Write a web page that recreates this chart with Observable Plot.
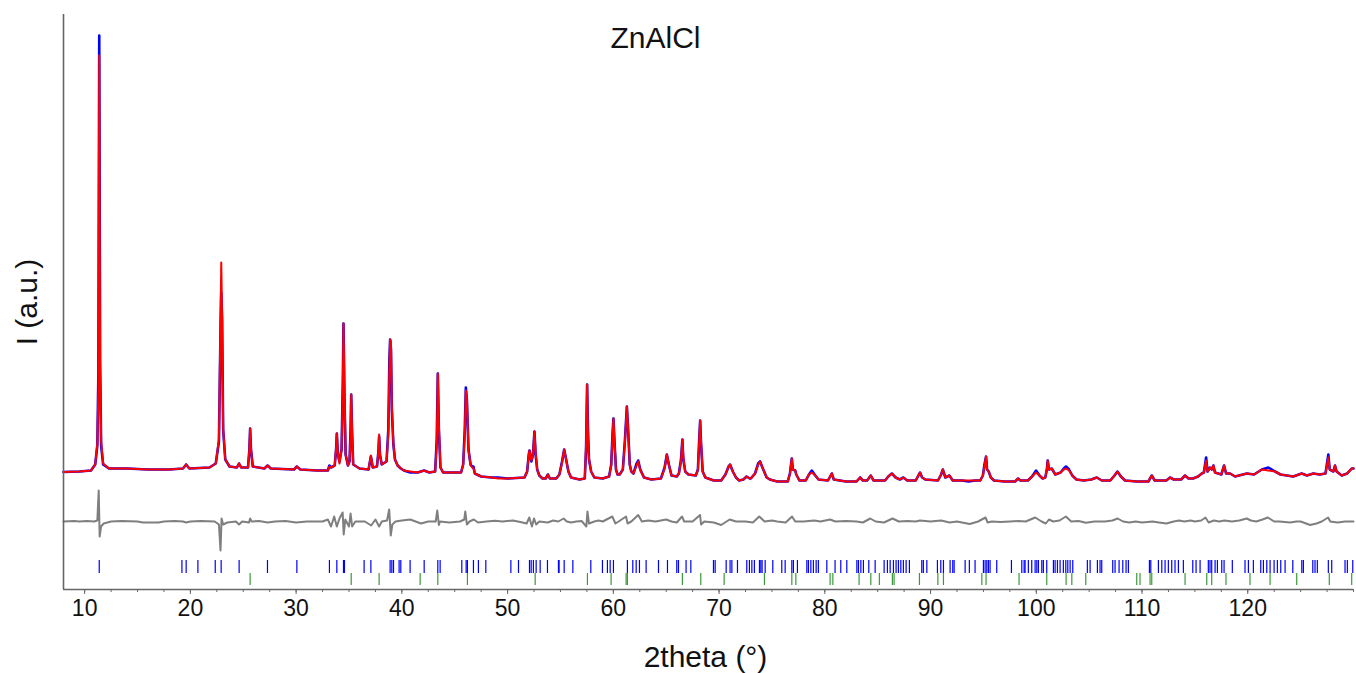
<!DOCTYPE html>
<html><head><meta charset="utf-8">
<script src="https://cdn.jsdelivr.net/npm/d3@7"></script>
<script src="https://cdn.jsdelivr.net/npm/@observablehq/plot@0.6"></script>
<style>body{margin:0;background:#fff;}</style>
</head><body><div id="chart"></div>
<script>
const title = "ZnAlCl";
const xLabel = "2theta (°)";
const yLabel = "I (a.u.)";
const xDomain = [8, 130];
const yDomain = [-120, 455];
const xTicks = [10, 20, 30, 40, 50, 60, 70, 80, 90, 100, 110, 120];

// [2theta, observed, calculated]
const profile = [
[8.0,-2.5,-2.5],[9.5,-2,-2],[10.6,-1,-1],[11.0,5,5],[11.2,24,26],[11.3,96,80],[11.38,434,414],[11.46,110,100],[11.56,24,28],[11.75,5,6],[12.3,1,1],[14.0,1,1],[16.0,0,0],[18.0,0,0],
[19.3,1,1],[19.6,5,5],[19.9,1,1],[21.8,2,2],[22.4,6,6],[22.7,28,30],[22.85,140,150],[22.92,177,207],[23.0,150,150],[23.1,40,40],[23.3,10,10],[23.7,3,3],
[24.4,2,2],[24.6,6,6],[24.8,2,2],[25.45,2,2],[25.58,20,20],[25.65,41,41],[25.73,20,20],[25.9,3,3],[27.0,1,1],[27.3,4,4],[27.6,1,1],[29.8,0,0],[30.07,3,3],[30.4,0,0],
[32.0,-1,-1],[33.0,-1,-1],[33.15,4,3],[33.3,2,2],[33.65,4,4],[33.78,20,22],[33.85,36,36],[33.95,15,15],[34.1,8,6],[34.3,20,20],[34.42,90,85],[34.48,146,146],[34.56,80,90],[34.68,15,15],
[34.9,4,4],[35.05,8,8],[35.15,40,35],[35.21,75,75],[35.28,40,45],[35.4,5,5],[36.0,1,1],[36.85,0,0],[37.07,13,14],[37.25,2,2],[37.65,3,3],[37.78,18,18],[37.85,33,35],[37.93,15,15],[38.1,5,5],
[38.55,8,8],[38.72,40,35],[38.82,110,98],[38.89,130,130],[38.97,120,128],[39.05,60,65],[39.2,25,25],[39.35,10,10],[39.6,4,4],[39.9,1,1],[40.2,-1,-1],[40.8,-3,-2],[41.5,-3,-3],[42.1,-1,-1],[42.6,-3,-3],
[43.15,-2,-2],[43.3,30,25],[43.4,96,96],[43.5,40,45],[43.65,2,2],[43.9,-3,-3],[45.0,-3,-3],[45.6,-3,-3],[45.8,5,5],[45.95,40,35],[46.05,82,79],[46.15,70,72],[46.3,20,20],[46.5,5,4],[46.65,3,2],[46.77,3,1],[46.9,-4,-4],
[47.5,-7,-7],[48.5,-8,-8],[49.1,-8,-9],[50.0,-9,-9],[51.6,-8,-8],[51.85,-2,-2],[52.0,15,14],[52.07,19,19],[52.25,8,9],[52.4,15,14],[52.54,38,38],[52.65,15,17],[52.8,0,0],[53.0,-6,-6],[53.3,-9,-9],
[53.6,-9,-9],[53.81,-5,-5],[54.0,-9,-9],[54.6,-9,-9],[54.9,-5,-5],[55.15,8,7],[55.35,20,20],[55.5,12,12],[55.75,-2,-2],[56.0,-8,-8],[56.8,-10,-10],
[57.3,-9,-9],[57.42,20,25],[57.52,85,85],[57.6,40,35],[57.7,10,10],[57.9,-2,-2],[58.2,-8,-8],[59.0,-9,-9],[59.6,-7,-7],[59.8,5,4],[59.92,35,33],[60.01,51,51],[60.1,30,30],[60.25,0,0],[60.4,-5,-5],
[60.6,-5,-5],[60.9,0,0],[61.1,30,28],[61.28,63,63],[61.4,40,40],[61.55,5,5],[61.7,-2,-2],[61.9,-4,-4],[62.2,6,4],[62.35,9,8],[62.55,0,-1],[62.9,-8,-8],[63.6,-10,-10],
[64.5,-9,-9],[64.85,2,1],[65.06,15,15],[65.25,5,5],[65.5,-6,-6],[66.0,-7,-7],[66.2,-4,-4],[66.4,10,8],[66.53,30,30],[66.62,10,12],[66.8,-2,-2],[67.1,-5,-5],
[67.8,-6,-6],[68.0,0,0],[68.12,30,28],[68.21,49,49],[68.3,25,27],[68.45,-2,-2],[68.7,-8,-8],[69.5,-11,-11],[70.2,-11,-11],[70.6,-5,-5],[70.9,3,3],[71.04,5,5],[71.3,-2,-2],[71.6,-8,-8],[71.9,-11,-11],
[72.3,-10,-10],[72.6,-7,-7],[72.9,-9,-9],[73.0,-9,-9],[73.4,-4,-4],[73.7,6,5],[73.88,8,8],[74.1,2,2],[74.5,-8,-8],[74.8,-10,-10],[75.5,-12,-12],
[76.5,-12,-12],[76.7,-4,-4],[76.88,11,11],[76.98,0,0],[77.2,-1,-1],[77.3,-5,-5],[77.6,-11,-11],[78.2,-11,-11],[78.5,-5,-5],[78.77,-1,-3],[79.1,-6,-6],[79.4,-10,-10],
[80.3,-11,-11],[80.66,-4,-4],[80.85,-10,-10],[82.0,-12,-12],[83.0,-12,-12],[83.34,-8,-8],[83.6,-11,-11],[84.0,-11,-11],[84.35,-6,-6],[84.6,-11,-11],
[85.7,-11,-11],[86.0,-7,-7],[86.34,-4,-4],[86.7,-8,-8],[87.1,-10,-10],[87.43,-8,-8],[87.8,-11,-11],[88.6,-11,-11],[88.9,-5,-5],[89.01,-3,-3],[89.2,-8,-8],[89.5,-10,-10],
[90.7,-11,-11],[91.0,-5,-5],[91.16,0,0],[91.4,-8,-8],[91.78,-6,-6],[92.1,-11,-11],[93.0,-11,-11],[93.6,-12,-11],[94.2,-11,-11],[94.7,-11,-11],[94.95,-6,-6],[95.1,5,3],[95.25,13,13],[95.35,0,0],[95.5,-2,-2],[95.7,-8,-8],[96.0,-11,-11],
[97.0,-12,-12],[98.0,-12,-12],[98.28,-9,-9],[98.5,-11,-11],[99.2,-11,-11],[99.6,-7,-7],[99.98,-1,-3],[100.3,-6,-6],[100.6,-9,-9],[100.85,-8,-8],[101.0,0,0],[101.08,9,9],[101.2,0,0],[101.46,1,1],
[101.8,-5,-5],[102.3,-3,-3],[102.6,1,0],[102.81,3,1],[103.1,0,-1],[103.4,-6,-6],[103.8,-10,-10],[104.5,-11,-11],[105.2,-10,-10],[105.72,-8,-8],[106.2,-11,-11],
[107.0,-11,-11],[107.4,-6,-6],[107.67,-2,-2],[108.0,-7,-7],[108.4,-11,-11],[109.5,-12,-12],[110.6,-12,-12],[110.92,-6,-6],[111.2,-11,-11],[112.3,-11,-11],[112.65,-8,-8],[113.0,-10,-10],
[113.7,-10,-10],[114.07,-6,-6],[114.4,-9,-9],[114.83,-9,-9],[115.3,-7,-7],[115.65,-4,-4],[115.85,-3,-3],[116.06,12,9],[116.2,-2,-2],[116.43,2,2],[116.6,0,0],[116.75,4,4],[116.9,-3,-3],
[117.5,-5,-5],[117.76,4,4],[117.95,-4,-4],[118.33,-4,-4],[118.8,-7,-7],[119.91,-4,-4],[120.6,-5,-5],[121.33,0,0],[121.95,2,-1],[122.58,-2,-2],[123.1,-5,-5],[123.69,-6,-6],
[124.3,-7,-7],[125.1,-4,-4],[125.6,-6,-6],[126.2,-4,-4],[126.8,-5,-5],[127.35,-4,-4],[127.62,15,12],[127.75,0,0],[128.1,-2,-2],[128.25,4,4],[128.4,-2,-2],[128.89,-6,-6],[129.4,-4,-4],[129.83,1,1],[130.0,1,1]
];

// [2theta, observed - calculated]
const difference = [
[8.0,0],[9.0,0.5],[9.5,0],[10.2,0.5],[10.9,0],[11.2,1],[11.33,31],[11.42,-15],[11.55,-5],[11.8,-2],[12.5,0],[13.5,0.5],[15.0,0],[15.5,-1],[17.0,-1],[17.5,0],[18.5,0.5],[19.3,0],[19.6,-1],[20.0,0],
[21.0,0.5],[22.3,0],[22.7,-3],[22.85,-29],[22.95,3],[23.1,-3],[23.5,-1],[24.3,0],[24.6,-3],[24.9,0],[25.55,-1],[25.65,3],[25.8,0],[26.5,0.5],[27.3,-1],[28.0,0],[29.0,0.5],[30.0,-1],[31.0,0],[32.5,0],
[33.0,2],[33.3,-5],[33.6,5],[33.85,-5],[34.1,3],[34.4,9],[34.5,-13],[34.65,2],[35.0,-5],[35.15,8],[35.3,-5],[35.6,0],[36.5,0],[37.1,-4],[37.5,2],[37.85,-5],[38.1,0],
[38.6,1],[38.8,12],[38.95,-14],[39.1,-3],[39.4,0],[40.0,1],[40.8,2],[41.3,0],[41.8,-2],[42.5,0],[43.2,0],[43.35,11],[43.5,-3.5],[43.6,0],[44.5,-1],[45.5,0],
[45.9,2],[46.0,10],[46.15,-3],[46.4,0],[46.8,2],[47.2,-1],[48.0,0],[48.8,0.8],[49.5,0],[50.5,1],[51.2,-0.5],[51.8,-2],[52.05,4],[52.3,-5],[52.5,3],[52.7,-3],[53.0,0],[53.8,-1],[54.3,1],[54.8,0],
[55.3,3],[55.6,0],[56.0,-1],[56.5,0],[57.0,0.5],[57.45,-5],[57.55,10],[57.7,-2],[58.2,0],[58.6,1],[59.0,0],[59.9,5],[60.2,-2],[60.5,0],[61.2,5],[61.35,-2],[61.7,0],[62.35,6.5],[62.7,0],[63.3,1],[64.0,0],
[65.0,2],[65.5,0],[66.0,-1],[66.5,5],[66.7,0],[67.5,0],[68.2,6.5],[68.3,-3],[68.6,0],[69.5,-1],[70.2,-3.5],[71.0,2],[71.6,0],[72.5,0],[73.2,-1],[73.8,5],[74.3,0],[75.0,1],[75.5,0],[76.3,-1],[76.9,5],[77.2,0],
[78.0,0],[79.0,1],[79.6,0],[80.5,2],[81.0,0],[82.0,0.5],[83.0,0],[83.6,-1],[84.3,3],[84.8,0],[85.6,-1],[86.4,3],[87.0,0],[87.8,0.5],[88.6,0],[89.0,1],[90.0,0],[91.0,1],[91.8,-1],[92.5,0],[93.7,-2.5],[94.5,0],
[95.2,4],[95.4,-1],[95.8,0],[96.6,-0.5],[97.5,0],[98.3,0.5],[99.0,0],[99.9,4],[100.5,0],[100.9,-2],[101.2,2],[101.6,0],[102.2,1],[102.8,5],[103.3,0],[104.0,0.5],[104.7,-1.2],[105.5,0],[106.5,0],[107.2,1],[107.7,3],[108.2,0],
[108.8,-1],[109.4,0],[110.0,-1],[111.0,0],[111.6,-1],[112.3,-2],[113.0,0],[113.5,1],[114.0,0],[114.6,1],[115.0,0],[115.6,1],[116.0,4],[116.3,-1],[116.8,1],[117.3,0],[117.8,1],[118.5,0],[119.2,1],[119.9,3],[120.3,1],[120.8,0],[121.4,2],[121.9,4],[122.5,0],
[123.0,0],[124.0,-1],[124.6,0],[125.0,0],[125.9,-3.5],[126.5,-2],[127.0,0],[127.6,4],[127.8,0],[128.5,-1],[129.2,0],[129.9,0],[130.0,0]
];

const phase1Ticks = [11.38,19.20,19.60,20.71,22.35,22.91,24.61,27.29,30.07,33.15,33.85,34.48,34.57,36.43,37.07,38.89,39.05,39.21,39.74,39.90,40.78,42.11,43.40,43.62,45.67,46.08,46.20,46.77,47.24,47.94,
50.31,51.03,52.07,52.23,52.44,52.70,53.08,53.77,54.81,54.87,55.35,56.17,57.87,58.97,59.44,59.70,60.01,61.33,61.84,62.16,62.47,63.10,64.27,65.12,66.00,66.16,66.88,67.33,69.47,69.63,
70.67,71.04,71.21,71.74,72.62,72.87,73.10,73.34,73.82,73.95,74.07,74.36,75.08,75.93,76.25,76.88,77.03,77.41,78.30,78.45,78.68,78.92,79.18,79.39,80.19,80.97,81.51,82.08,
83.03,83.18,83.41,83.65,84.16,84.76,85.61,85.92,86.18,86.49,86.74,86.96,87.19,87.43,87.69,88.00,89.17,89.32,89.65,90.65,90.97,91.22,91.85,92.10,92.23,93.27,93.67,94.21,
95.00,95.16,95.32,95.47,95.63,96.26,97.65,98.63,98.85,98.94,99.25,99.57,99.89,100.05,100.20,100.52,100.67,100.99,101.62,101.78,102.00,102.25,102.56,102.79,102.98,103.20,103.45,
104.83,105.09,105.78,106.03,106.19,107.23,107.45,107.83,108.18,108.49,108.71,110.70,110.83,111.55,111.87,112.18,112.49,112.81,113.12,113.44,113.91,114.80,115.11,115.49,
116.27,116.43,116.59,116.91,117.13,117.54,117.76,118.54,119.74,120.06,120.53,121.23,121.48,121.80,122.11,122.49,122.80,123.12,123.53,124.26,125.11,125.26,126.15,126.36,126.58,
127.62,127.94,129.20,129.42,129.93];

const phase2Ticks = [25.65,35.21,37.85,41.73,43.40,46.20,52.61,57.55,59.79,61.21,61.33,66.53,68.27,70.48,74.29,76.88,77.26,80.50,80.76,83.24,84.35,85.16,86.39,86.55,88.95,
90.69,91.22,94.85,95.25,98.37,100.99,102.82,103.36,104.68,109.50,109.81,110.76,110.92,114.07,116.12,116.59,117.94,120.21,122.11,124.63,127.71,129.83];

const diffOffset = -52;
const row1 = [-91, -104];
const row2 = [-104, -116];

const font = "'Liberation Sans', Arial, Helvetica, sans-serif";
const axisColor = "#666";

const chart = Plot.plot({
  width: 1356,
  height: 673,
  marginLeft: 63,
  marginRight: 3,
  marginTop: 14,
  marginBottom: 84,
  style: {fontFamily: font, background: "#fff"},
  x: {domain: xDomain, axis: null},
  y: {domain: yDomain, axis: null},
  marks: [
    Plot.ruleX(phase1Ticks, {x: d => d, y1: row1[0], y2: row1[1], stroke: "#0000ff", strokeWidth: 1.2}),
    Plot.ruleX(phase2Ticks, {x: d => d, y1: row2[0], y2: row2[1], stroke: "#3a9a3a", strokeWidth: 1.2}),
    Plot.line(difference, {x: d => d[0], y: d => d[1] + diffOffset, stroke: "#7f7f7f", strokeWidth: 2}),
    Plot.line(profile, {x: d => d[0], y: d => d[1], stroke: "#0000ff", strokeWidth: 2.6}),
    Plot.line(profile, {x: d => d[0], y: d => d[2], stroke: "#ff0000", strokeWidth: 2}),
    Plot.axisX({interval: 2.5, tickSize: 3, text: null, label: null, stroke: axisColor}),
    Plot.axisX({ticks: xTicks, tickSize: 5, tickPadding: 5, label: null, stroke: axisColor, fontSize: 23, fill: "#111"}),
    Plot.ruleX([xDomain[0]], {stroke: axisColor, strokeWidth: 1.6}),
    Plot.ruleY([yDomain[0]], {stroke: axisColor, strokeWidth: 1.6}),
    Plot.text([title], {text: d => d, frameAnchor: "top", dx: -53, dy: 24, fontSize: 30, fill: "#111", lineAnchor: "middle"}),
    Plot.text([yLabel], {text: d => d, frameAnchor: "left", textAnchor: "middle", dx: -36, rotate: -90, fontSize: 30, fill: "#111", lineAnchor: "middle"}),
    Plot.text([xLabel], {text: d => d, frameAnchor: "bottom", dx: -3, dy: 68, fontSize: 30, fill: "#111", lineAnchor: "middle"})
  ]
});
document.getElementById("chart").appendChild(chart);
</script>
</body></html>
